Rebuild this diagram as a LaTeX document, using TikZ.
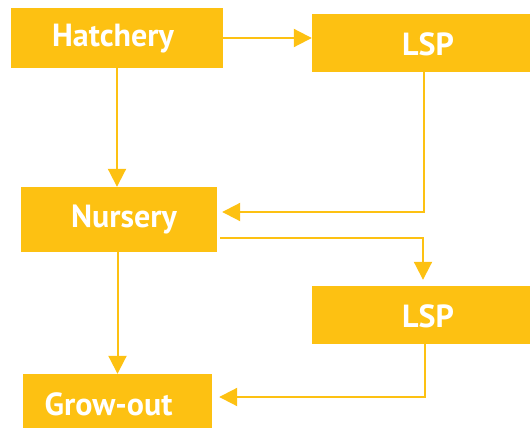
\documentclass[tikz,border=0pt]{standalone}
\usepackage{fontspec}
\setmainfont{PT Sans}
\usepackage{tikz}
\usetikzlibrary{arrows.meta}
\definecolor{amber}{RGB}{253,193,18}

\begin{document}
\begin{tikzpicture}[x=1pt,y=-1pt,
    stage/.style={fill=amber,inner sep=0pt,minimum height=#1},
    tag/.style={text=white,font=\fontsize{32}{36}\selectfont\bfseries},
    flow/.style={draw=amber,line width=2pt,-{Triangle[width=18pt,length=18pt]}}]
  \useasboundingbox (0,0) rectangle (530,428);
  \node[stage=60pt,minimum width=212pt,label={[tag,xshift=-4pt,yshift=-1pt]center:Hatchery}] (hatch) at (117,38) {};
  \node[stage=58pt,minimum width=218pt,label={[tag,xshift=7pt,yshift=-1pt]center:LSP}] (lspa) at (421,43) {};
  \node[stage=65pt,minimum width=196pt,label={[tag,xshift=5pt]center:Nursery}] (nurs) at (119,219.5) {};
  \node[stage=58pt,minimum width=218pt,label={[tag,xshift=7pt,yshift=-1pt]center:LSP}] (lspb) at (421,315) {};
  \node[stage=54pt,minimum width=189pt,label={[tag,xshift=-9pt,yshift=-3pt]center:Grow-out}] (grow) at (117.5,401) {};
  \draw[flow] (hatch.east) -- (hatch.east -| lspa.west);
  \draw[flow] (hatch.south) -- (hatch.south |- nurs.north);
  \draw[flow] ([xshift=3pt]lspa.south) |- ([xshift=5pt,yshift=7.5pt]nurs.east);
  \draw[flow] ([xshift=3pt,yshift=-18.5pt]nurs.east) -| ([xshift=2pt,yshift=6pt]lspb.north);
  \draw[flow] (grow.north |- nurs.south) -- (grow.north);
  \draw[flow] ([xshift=4pt]lspb.south) |- ([xshift=7pt,yshift=4pt]grow.east);
\end{tikzpicture}
\end{document}
